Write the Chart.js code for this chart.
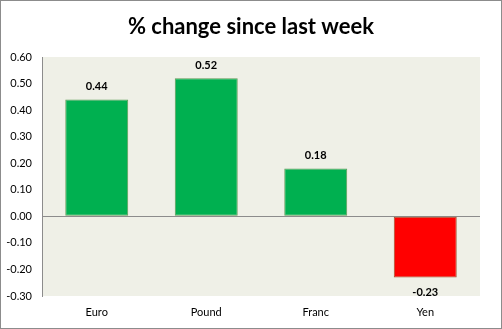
<!DOCTYPE html>
<html><head><meta charset="utf-8">
<script src="https://cdn.jsdelivr.net/npm/chart.js@4"></script>
<style>
html,body{margin:0;padding:0;background:#fff;}
#wrap{position:relative;width:502px;height:329px;}
#wrap:after{content:"";position:absolute;left:0;top:0;width:500px;height:327px;border:1px solid #8c8c8c;pointer-events:none;}
canvas{display:block;}
</style></head><body>
<div id="wrap"><canvas id="c" width="502" height="329"></canvas></div>
<script>
const categories = ["Euro", "Pound", "Franc", "Yen"];
const changes = [0.44, 0.52, 0.18, -0.23];
const yTicks = [0.6, 0.5, 0.4, 0.3, 0.2, 0.1, 0, -0.1, -0.2, -0.3];
const titleText = "% change since last week";

const FONT = "Lato, 'Liberation Sans', sans-serif";

const plotBg = {
  id: 'plotBg',
  beforeDraw(chart) {
    const {ctx, chartArea: a} = chart;
    ctx.save();
    ctx.fillStyle = '#EFF0E7';
    ctx.fillRect(a.left, a.top, a.right - a.left, a.bottom - a.top);
    ctx.font = "bold 22px " + FONT;
    ctx.fillStyle = '#000';
    ctx.textAlign = 'center';
    ctx.textBaseline = 'middle';
    ctx.fillText(titleText, chart.width / 2, 27);
    ctx.restore();
  }
};
const valueLabels = {
  id: 'valueLabels',
  afterDatasetsDraw(chart) {
    const {ctx} = chart;
    const meta = chart.getDatasetMeta(0);
    ctx.save();
    ctx.font = "bold 11px " + FONT;
    ctx.fillStyle = '#000';
    ctx.textAlign = 'center';
    ctx.textBaseline = 'middle';
    meta.data.forEach((bar, i) => {
      const v = changes[i];
      const y = v >= 0 ? bar.y - 13 : bar.y + 15;
      ctx.fillText(v.toFixed(2), bar.x, y);
    });
    ctx.restore();
  }
};

new Chart(document.getElementById('c'), {
  type: 'bar',
  data: {
    labels: categories,
    datasets: [{
      data: changes,
      backgroundColor: changes.map(v => v >= 0 ? '#00B050' : '#FF0000'),
      borderColor: changes.map(v => v >= 0 ? '#5E9A55' : '#A0522D'),
      borderWidth: 1,
      borderSkipped: false,
      categoryPercentage: 1,
      barPercentage: 0.575
    }]
  },
  options: {
    responsive: false,
    animation: false,
    devicePixelRatio: 1,
    layout: {padding: {left: 0, right: 22, top: 57, bottom: 0}},
    plugins: {
      legend: {display: false},
      tooltip: {enabled: false},
      title: {display: false}
    },
    scales: {
      x: {
        grid: {display: false, drawTicks: false},
        border: {display: false},
        ticks: {color: '#000', font: {family: FONT, size: 11}, padding: 10},
        afterFit(s) { s.height = 33; }
      },
      y: {
        min: -0.3, max: 0.6,
        afterBuildTicks(s) { s.ticks = yTicks.map(v => ({value: v})); },
        grid: {
          drawTicks: false,
          color: ctx => (ctx.tick && Math.abs(ctx.tick.value) < 1e-9) ? '#8c8c8c' : 'rgba(0,0,0,0)',
          lineWidth: 1
        },
        border: {display: true, color: '#8c8c8c'},
        ticks: {color: '#000', font: {family: FONT, size: 11}, padding: 10,
          callback: v => v.toFixed(2)},
        afterFit(s) { s.width = 42; }
      }
    }
  },
  plugins: [plotBg, valueLabels]
});
</script>
</body></html>
